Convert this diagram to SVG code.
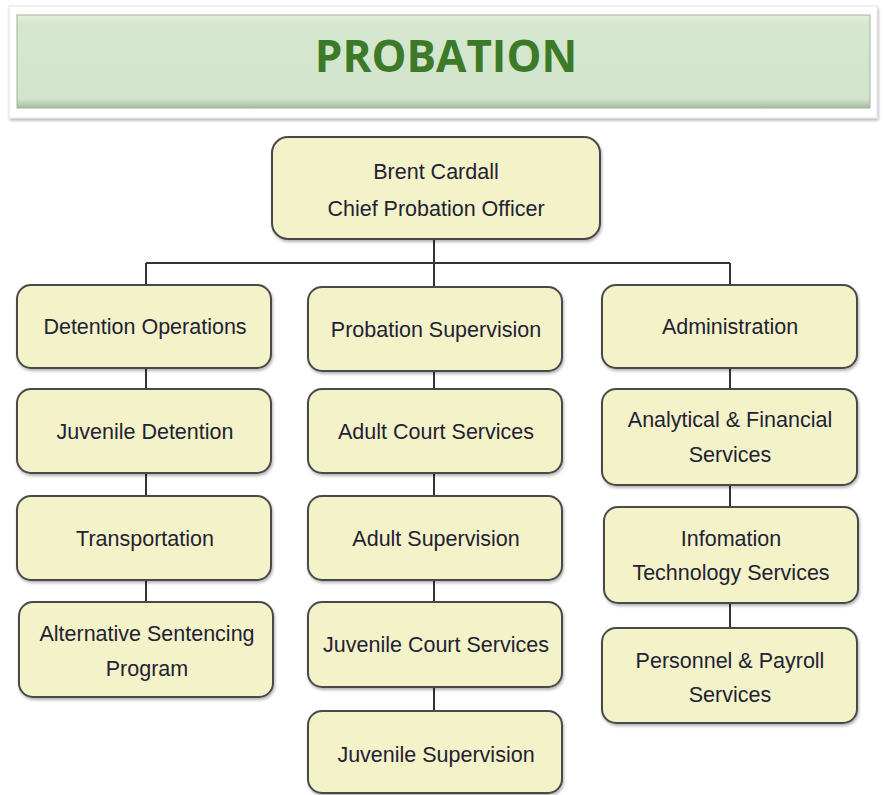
<svg xmlns="http://www.w3.org/2000/svg" width="883" height="795" viewBox="0 0 883 795">
<defs>
<linearGradient id="bannerG" x1="0" y1="0" x2="0" y2="1">
<stop offset="0" stop-color="#e3f0dc"/>
<stop offset="0.1" stop-color="#d6e7d0"/>
<stop offset="0.9" stop-color="#d3e4cc"/>
<stop offset="1" stop-color="#a9b9a3"/>
</linearGradient>
<filter id="sh" x="-5%" y="-5%" width="110%" height="115%">
<feDropShadow dx="1" dy="2" stdDeviation="1.5" flood-color="#000" flood-opacity="0.3"/>
</filter>
</defs>
<style>
.box{fill:#f4f2c9;stroke:#4a4a4a;stroke-width:2;filter:url(#sh)}
.t{font-family:"Liberation Sans",Arial,sans-serif;font-size:21.5px;fill:#222233;text-anchor:middle}
.c{stroke:#333;stroke-width:2;fill:none}
</style>
<rect width="883" height="795" fill="#ffffff"/>
<g id="title">
<rect x="9" y="6" width="868" height="112" fill="#ffffff" stroke="#e4e4e4" stroke-width="1" filter="url(#sh)"/>
<rect x="17" y="15" width="853" height="93" fill="url(#bannerG)" stroke="#9fb39a" stroke-width="1"/>
<text x="446" y="72" font-family="'Open Sans','Liberation Sans',sans-serif" font-weight="bold" font-size="44" fill="#3c7a2a" text-anchor="middle">PROBATION</text>
</g>
<g id="connectors">
<path class="c" d="M434 239V287M146 263H730M146 263V285M730 263V285"/>
<path class="c" d="M146 368V389M146 473V496M146 580V602"/>
<path class="c" d="M434 371V389M434 473V496M434 580V602M434 687V711"/>
<path class="c" d="M730 368V389M730 485V507M730 603V628"/>
</g>
<g id="chief"><rect class="box" x="272" y="137" width="328" height="102" rx="16"/><text class="t" x="436" y="179">Brent Cardall</text><text class="t" x="436" y="216">Chief Probation Officer</text></g>
<g id="detention-operations"><rect class="box" x="17" y="285" width="254" height="83" rx="14"/><text class="t" x="145" y="334">Detention Operations</text></g>
<g id="juvenile-detention"><rect class="box" x="17" y="389" width="254" height="84" rx="14"/><text class="t" x="145" y="439">Juvenile Detention</text></g>
<g id="transportation"><rect class="box" x="17" y="496" width="254" height="84" rx="14"/><text class="t" x="145" y="546">Transportation</text></g>
<g id="alternative-sentencing"><rect class="box" x="19" y="602" width="254" height="95" rx="14"/><text class="t" x="147" y="641">Alternative Sentencing</text><text class="t" x="147" y="676">Program</text></g>
<g id="probation-supervision"><rect class="box" x="308" y="287" width="254" height="84" rx="14"/><text class="t" x="436" y="337">Probation Supervision</text></g>
<g id="adult-court-services"><rect class="box" x="308" y="389" width="254" height="84" rx="14"/><text class="t" x="436" y="439">Adult Court Services</text></g>
<g id="adult-supervision"><rect class="box" x="308" y="496" width="254" height="84" rx="14"/><text class="t" x="436" y="546">Adult Supervision</text></g>
<g id="juvenile-court-services"><rect class="box" x="308" y="602" width="254" height="85" rx="14"/><text class="t" x="436" y="652">Juvenile Court Services</text></g>
<g id="juvenile-supervision"><rect class="box" x="308" y="711" width="254" height="82" rx="14"/><text class="t" x="436" y="762">Juvenile Supervision</text></g>
<g id="administration"><rect class="box" x="602" y="285" width="255" height="83" rx="14"/><text class="t" x="730" y="334">Administration</text></g>
<g id="analytical-financial"><rect class="box" x="602" y="389" width="255" height="96" rx="14"/><text class="t" x="730" y="427">Analytical &amp; Financial</text><text class="t" x="730" y="462">Services</text></g>
<g id="information-technology"><rect class="box" x="604" y="507" width="254" height="96" rx="14"/><text class="t" x="731" y="546">Infomation</text><text class="t" x="731" y="580">Technology Services</text></g>
<g id="personnel-payroll"><rect class="box" x="602" y="628" width="255" height="95" rx="14"/><text class="t" x="730" y="668">Personnel &amp; Payroll</text><text class="t" x="730" y="702">Services</text></g>
</svg>
